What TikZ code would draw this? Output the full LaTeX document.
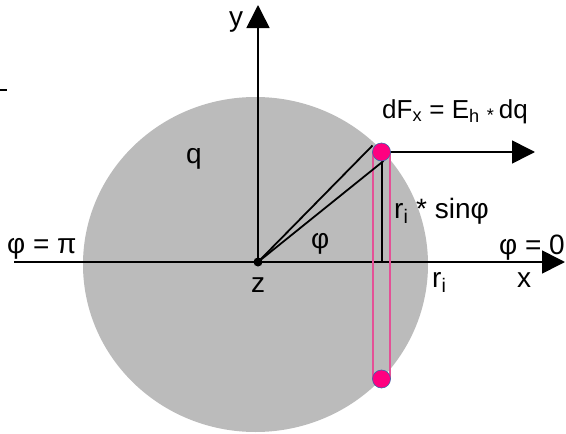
\documentclass[tikz,border=0pt]{standalone}
\usepackage{fontspec}
\setmainfont{Liberation Sans}
\usetikzlibrary{arrows.meta}
\definecolor{discgray}{RGB}{187,187,187}
\definecolor{ringpink}{RGB}{228,80,150}
\definecolor{dotpink}{RGB}{255,0,128}
\definecolor{dotrim}{RGB}{60,100,170}

\begin{document}
\begin{tikzpicture}[x=1pt, y=-1pt,
    axis/.style={line width=1.6pt, -{Triangle[length=23pt,width=23pt]}},
    lbl/.style={font=\fontsize{28}{30}\selectfont, inner sep=0pt},
    lblsmall/.style={font=\fontsize{26}{28}\selectfont, inner sep=0pt},
    charge/.style={circle, fill=dotpink, draw=dotrim, line width=0.6pt, minimum size=18pt, inner sep=0pt}]
    \useasboundingbox (0,0) rectangle (566,434);

    % 带电圆盘
    \fill[discgray] (255.5,264.5) ellipse [x radius=172.5, y radius=167.5];

    % 坐标轴
    \coordinate (z) at (258,262);
    \coordinate (xl) at (14,262);
    \coordinate (xr) at (565,262);
    \coordinate (yt) at (258,5);
    \draw[axis] (xl) -- (xr);
    \draw[axis] (z) -- (yt);

    % 左上角短线
    \coordinate (m1) at (0,90);
    \coordinate (m2) at (7,90);
    \draw[line width=1.2pt] (m1) -- (m2);

    % 细环
    \coordinate (ptop) at (381.5,152);
    \coordinate (pbot) at (381.5,379);
    \coordinate (r1t) at (373,152);
    \coordinate (r1b) at (373,379);
    \coordinate (r2t) at (390,152);
    \coordinate (r2b) at (390,379);
    \draw[ringpink, line width=1.3pt] (r1t) -- (r1b);
    \draw[ringpink, line width=1.3pt] (r2t) -- (r2b);

    % 角 phi 与 r_i sin(phi)
    \coordinate (a) at (372.5,145.5);
    \coordinate (b) at (383.5,161);
    \coordinate (c) at (382,161);
    \coordinate (foot) at (382,262);
    \draw[line width=1.8pt] (z) -- (a);
    \draw[line width=1.8pt] (z) -- (b);
    \draw[line width=1.6pt] (c) -- (foot);

    % 力 dF_x
    \coordinate (fend) at (535,152);
    \draw[axis] (ptop) -- (fend);

    % 电荷 dq
    \node[charge] (qtop) at (ptop) {};
    \node[charge] (qbot) at (pbot) {};
    \fill (z) circle (4.5);

    % 标注
    \node[lbl, anchor=base west] (ylab) at (229,26) {y};
    \node[lbl, anchor=base west] (xlab) at (517,287) {x};
    \node[lbl, anchor=base west] (zlab) at (251,292) {z};
    \node[lbl, anchor=base west] (qlab) at (186,163) {q};
    \node[lbl, anchor=base west] (philab) at (311,248) {φ};
    \node[lbl, anchor=base west] (pipos) at (7,253) {φ = π};
    \node[lbl, anchor=base east] (zeropos) at (565,254) {φ = 0};
    \node[lbl, anchor=base west] (rlab) at (432,287) {r\textsubscript{i}};
    \node[lbl, anchor=base west] (rsin) at (394,218) {r\textsubscript{i} * sinφ};
    \node[lblsmall, anchor=base west] (force) at (382,118) {dF\textsubscript{x} = E\textsubscript{h} \textsubscript{*}\,dq};
\end{tikzpicture}
\end{document}
